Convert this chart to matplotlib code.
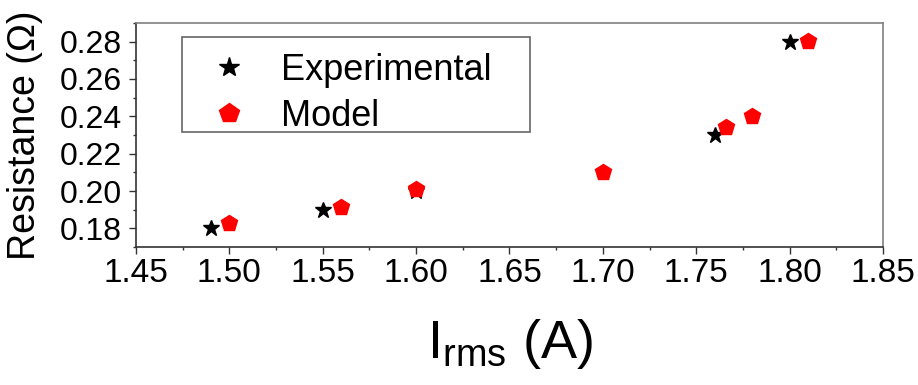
import matplotlib
matplotlib.use('Agg')
import matplotlib.pyplot as plt
from matplotlib.patches import Rectangle
from matplotlib.ticker import MultipleLocator

plt.rcParams['font.family'] = ['Liberation Sans', 'DejaVu Sans']
plt.rcParams['mathtext.fontset'] = 'custom'
plt.rcParams['mathtext.rm'] = 'Liberation Sans'

# experimental points
exp_i = [1.49, 1.55, 1.60, 1.76, 1.80]
exp_r = [0.180, 0.190, 0.200, 0.230, 0.280]

# model points
mod_i = [1.50, 1.56, 1.60, 1.70, 1.766, 1.78, 1.81]
mod_r = [0.1827, 0.1913, 0.2013, 0.2101, 0.2343, 0.2403, 0.2802]

W, H = 918, 385
fig = plt.figure(figsize=(W / 100, H / 100), dpi=100)
ax = fig.add_axes([0.1481, 0.3584, 0.8138, 0.5819])

ax.plot(mod_i, mod_r, linestyle='none', marker='p', markersize=12,
        color='#ff0000', markeredgecolor='#ff0000', label='Model', zorder=3)
ax.plot(exp_i, exp_r, linestyle='none', marker='*', markersize=12,
        color='black', label='Experimental', zorder=2)

ax.set_xlim(1.45, 1.85)
ax.set_ylim(0.17, 0.29)
ax.xaxis.set_major_locator(MultipleLocator(0.05))
ax.xaxis.set_minor_locator(MultipleLocator(0.025))
ax.yaxis.set_major_locator(MultipleLocator(0.02))
ax.yaxis.set_minor_locator(MultipleLocator(0.01))
ax.xaxis.set_major_formatter(plt.FuncFormatter(lambda v, _: f'{v:.2f}'))
ax.yaxis.set_major_formatter(plt.FuncFormatter(lambda v, _: f'{v:.2f}'))

ax.tick_params(which='major', direction='out', length=5, width=1,
               color='#333333', pad=4)
ax.tick_params(which='minor', direction='out', length=2.5, width=1,
               color='#333333')
ax.tick_params(axis='x', which='major', labelsize=24, pad=3)
ax.tick_params(axis='y', which='major', labelsize=23, pad=5)

for side in ['left', 'bottom']:
    ax.spines[side].set_color('#333333')
for side in ['top', 'right']:
    ax.spines[side].set_color('#808080')
for sp in ax.spines.values():
    sp.set_linewidth(1.2)

ax.set_xlabel(r'I$_{\mathrm{rms}}$ (A)', fontsize=39, labelpad=20)
ax.set_ylabel('Resistance (\u03a9)', fontsize=27, labelpad=12)

# legend entries without frame, box drawn separately so it hugs the rows
handles, labels = ax.get_legend_handles_labels()
leg = ax.legend(handles[::-1], labels[::-1], loc='upper left',
                bbox_to_anchor=(182 / W, 1 - 42 / H),
                bbox_transform=fig.transFigure, borderaxespad=0,
                fontsize=26, frameon=False, borderpad=0.3,
                handlelength=2.0, handletextpad=0.45, labelspacing=0.3,
                markerscale=1.2)
box = Rectangle((182 / W, 1 - 132 / H), (530 - 182) / W, 95 / H,
                transform=fig.transFigure, facecolor='white',
                edgecolor='#666666', linewidth=1.2, zorder=4)
ax.add_patch(box)
box.set_clip_on(False)
leg.set_zorder(5)

fig.savefig('out.png', dpi=100, facecolor='white')
